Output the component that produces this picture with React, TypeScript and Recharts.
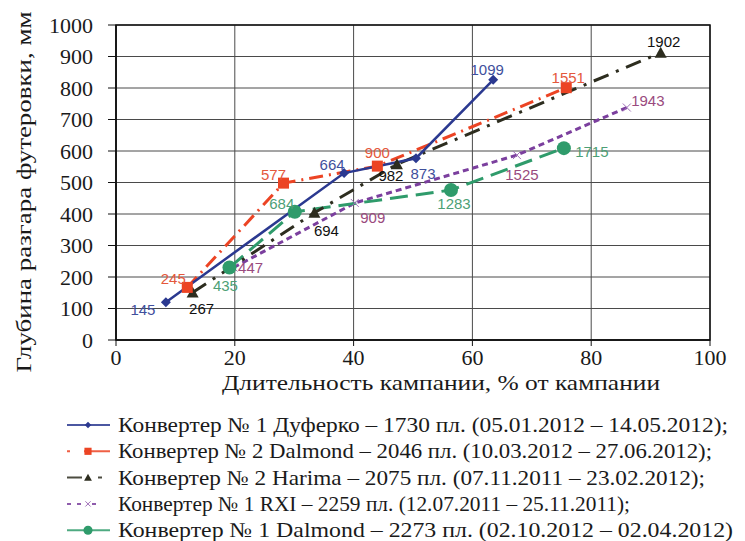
import { LineChart, Line, XAxis, YAxis, CartesianGrid, ReferenceArea, LabelList } from 'recharts'

const X_TICKS = [0, 20, 40, 60, 80, 100]
const Y_TICKS = [0, 100, 200, 300, 400, 500, 600, 700, 800, 900, 1000]

// Конвертер № 1 Дуферко – 1730 пл.
const dufX = [8.4, 38.4, 50.5, 63.5]
const dufY = [120, 530, 577, 826]
const dufHeats = [145, 664, 873, 1099]

// Конвертер № 2 Dalmond – 2046 пл.
const dal2X = [12.0, 28.2, 44.0, 75.8]
const dal2Y = [167, 498, 552, 801]
const dal2Heats = [245, 577, 900, 1551]

// Конвертер № 2 Harima – 2075 пл.
const harX = [12.9, 33.4, 47.3, 91.7]
const harY = [151, 404, 558, 912]
const harHeats = [267, 694, 982, 1902]

// Конвертер № 1 RXI – 2259 пл.
const rxiX = [19.8, 40.2, 67.5, 86.0]
const rxiY = [230, 435, 587, 738]
const rxiHeats = [447, 909, 1525, 1943]

// Конвертер № 1 Dalmond – 2273 пл.
const dal1X = [19.1, 30.1, 56.4, 75.4]
const dal1Y = [230, 407, 476, 609]
const dal1Heats = [435, 684, 1283, 1715]

const LEGEND_NAMES = [
  'Конвертер № 1 Дуферко – 1730 пл. (05.01.2012 – 14.05.2012);',
  'Конвертер № 2 Dalmond – 2046 пл. (10.03.2012 – 27.06.2012);',
  'Конвертер № 2 Harima – 2075 пл. (07.11.2011 – 23.02.2012);',
  'Конвертер № 1 RXI – 2259 пл. (12.07.2011 – 25.11.2011);',
  'Конвертер № 1 Dalmond – 2273 пл. (02.10.2012 – 02.04.2012)',
]

const toRows = (xs: number[], ys: number[], hs: number[]) =>
  xs.map((x, i) => ({ x, y: ys[i], h: hs[i] }))

type Marker = 'diamond' | 'square' | 'triangle' | 'cross' | 'circle'

const SERIES = [
  {
    key: 'duf', data: toRows(dufX, dufY, dufHeats), color: '#2b3990', labelColor: '#3f4f9c',
    dash: undefined, legendDash: undefined, width: 2.5, marker: 'diamond' as Marker,
    offsets: [[-23, 7], [-12, -9], [7, 15], [-6, -10]], textLen: 610,
  },
  {
    key: 'dal2', data: toRows(dal2X, dal2Y, dal2Heats), color: '#ec4424', labelColor: '#e4583c',
    dash: '14 6 2 6', legendDash: '3 14 30 0', width: 3, marker: 'square' as Marker,
    offsets: [[-14, -9], [-10, -9], [0, -14], [2, -10]], textLen: 594,
  },
  {
    key: 'har', data: toRows(harX, harY, harHeats), color: '#2d2d1f', labelColor: '#111111',
    dash: '16 8 3 8', legendDash: '15 16 4 20', width: 3, marker: 'triangle' as Marker,
    offsets: [[9, 16], [12, 18], [-6, 11], [3, -11]], textLen: 587,
  },
  {
    key: 'rxi', data: toRows(rxiX, rxiY, rxiHeats), color: '#7b3f9e', labelColor: '#9a4a7e',
    dash: '6 4', legendDash: '4 6 4 6 0 5 4 20', width: 3, marker: 'cross' as Marker,
    offsets: [[17, 0], [18, 15], [5, 19], [21, -7]], textLen: 512,
  },
  {
    key: 'dal1', data: toRows(dal1X, dal1Y, dal1Heats), color: '#2f9b6b', labelColor: '#4d9f76',
    dash: '18 8', legendDash: undefined, width: 3, marker: 'circle' as Marker,
    offsets: [[-4, 18], [-13, -8], [3, 13], [28, 3]], textLen: 615,
  },
]

function drawMarker(kind: Marker, cx: number, cy: number, color: string, k = 1, key?: string | number) {
  if (kind === 'diamond')
    return <polygon key={key} points={`${cx},${cy - 5 * k} ${cx + 5 * k},${cy} ${cx},${cy + 5 * k} ${cx - 5 * k},${cy}`} fill={color} />
  if (kind === 'square')
    return <rect key={key} x={cx - 5.5 * k} y={cy - 5.5 * k} width={11 * k} height={11 * k} fill={color} />
  if (kind === 'triangle')
    return <polygon key={key} points={`${cx},${cy - 6 * k} ${cx + 6 * k},${cy + 5 * k} ${cx - 6 * k},${cy + 5 * k}`} fill={color} />
  if (kind === 'cross')
    return (
      <g key={key} stroke="#a070b8" strokeWidth={1}>
        <line x1={cx - 4 * k} y1={cy - 4 * k} x2={cx + 4 * k} y2={cy + 4 * k} />
        <line x1={cx - 4 * k} y1={cy + 4 * k} x2={cx + 4 * k} y2={cy - 4 * k} />
      </g>
    )
  return <circle key={key} cx={cx} cy={cy} r={7 * k} fill={color} />
}

const serif = 'Liberation Serif, Times New Roman, Times, serif'
const sans = 'Liberation Sans, Arial, sans-serif'

export default function App() {
  return (
    <div style={{ position: 'absolute', left: 0, top: 0, width: 745, height: 541, background: '#fff' }}>
      <LineChart width={745} height={541} margin={{ top: 25, right: 35, bottom: 151, left: 0 }}>
        <CartesianGrid stroke="#4a4a4a" strokeWidth={1} />
        <XAxis
          dataKey="x"
          type="number"
          domain={[0, 100]}
          ticks={X_TICKS}
          allowDataOverflow
          height={50}
          tickSize={6}
          tickMargin={3}
          axisLine={{ stroke: '#111', strokeWidth: 1.5 }}
          tickLine={{ stroke: '#111' }}
          tick={{ fontFamily: serif, fontSize: 22, fill: '#1a1a1a' }}
        />
        <YAxis
          type="number"
          domain={[0, 1000]}
          ticks={Y_TICKS}
          width={116}
          tickSize={8}
          tickMargin={15}
          axisLine={{ stroke: '#111', strokeWidth: 1.5 }}
          tickLine={{ stroke: '#111' }}
          tick={{ fontFamily: serif, fontSize: 22, fill: '#1a1a1a' }}
        />
        <ReferenceArea x1={0} x2={100} y1={0} y2={1000} fill="none" stroke="#111" strokeWidth={1.5} />
        {[SERIES[3], SERIES[4], SERIES[2], SERIES[1], SERIES[0]].map((s) => (
          <Line
            key={s.key}
            data={s.data}
            dataKey="y"
            type="linear"
            stroke={s.color}
            strokeWidth={s.width}
            strokeDasharray={s.dash}
            isAnimationActive={false}
            dot={(p: any) => drawMarker(s.marker, p.cx, p.cy, s.color, 1, p.index)}
            activeDot={false}
          >
            <LabelList
              dataKey="h"
              content={(p: any) => {
                const off = s.offsets[p.index] || [0, 0]
                return (
                  <text
                    x={p.x + off[0]}
                    y={p.y + off[1]}
                    textAnchor="middle"
                    dominantBaseline="central"
                    fontFamily={sans}
                    fontSize={15}
                    fill={s.labelColor}
                  >
                    {p.value}
                  </text>
                )
              }}
            />
          </Line>
        ))}
      </LineChart>
      <svg
        width={745}
        height={541}
        style={{ position: 'absolute', left: 0, top: 0, pointerEvents: 'none' }}
      >
        <text
          transform="translate(23,192) rotate(-90)"
          textAnchor="middle"
          dominantBaseline="central"
          fontFamily={serif}
          fontSize={22}
          fill="#1a1a1a"
          textLength={361}
          lengthAdjust="spacingAndGlyphs"
        >
          Глубина разгара футеровки, мм
        </text>
        <text
          x={441}
          y={383}
          textAnchor="middle"
          dominantBaseline="central"
          fontFamily={serif}
          fontSize={21}
          fill="#1a1a1a"
          textLength={438}
          lengthAdjust="spacingAndGlyphs"
        >
          Длительность кампании, % от кампании
        </text>
        {SERIES.map((s, i) => {
          const cy = 425 + i * 26.3
          return (
            <g key={s.key}>
              <line
                x1={67}
                x2={110}
                y1={cy}
                y2={cy}
                stroke={s.color}
                strokeOpacity={0.85}
                strokeWidth={2}
                strokeDasharray={s.legendDash}
              />
              {drawMarker(s.marker, 88, cy, s.color, 0.65)}
              <text
                x={118}
                y={cy}
                dominantBaseline="central"
                fontFamily={serif}
                fontSize={21}
                fill="#1a1a1a"
                textLength={s.textLen}
                lengthAdjust="spacingAndGlyphs"
              >
                {LEGEND_NAMES[i]}
              </text>
            </g>
          )
        })}
      </svg>
    </div>
  )
}
